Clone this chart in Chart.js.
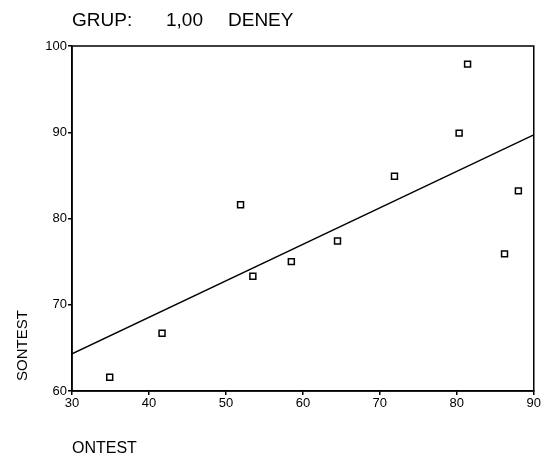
<!DOCTYPE html>
<html>
<head>
<meta charset="utf-8">
<script src="https://cdn.jsdelivr.net/npm/chart.js@4.4.1/dist/chart.umd.min.js"></script>
<style>
  html, body { margin: 0; padding: 0; background: #fff; }
  #wrap { width: 542px; height: 459px; }
</style>
</head>
<body>
<div id="wrap"><canvas id="chart" width="542" height="459"></canvas></div>
<script>
// values
var ontest  = [34.9, 41.7, 51.9, 53.5, 58.5, 64.5, 71.9, 80.3, 81.4, 88.0, 86.2];
var sontest = [61.6, 66.7, 81.6, 73.3, 75.0, 77.4, 84.9, 89.9, 97.9, 83.2, 75.9];
var fitX = [30, 90];
var fitY = [64.3, 89.7];
var xTicks = [30, 40, 50, 60, 70, 80, 90];
var yTicks = [60, 70, 80, 90, 100];
var titleParts = ['GRUP:', '1,00', 'DENEY'];
var xTitle = 'ONTEST';
var yTitle = 'SONTEST';

var FONT = '"Liberation Sans", Arial, sans-serif';

function toPoints(xs, ys){
    var pts = [];
    for(var i = 0; i < xs.length; i++){
        pts.push({x: xs[i], y: ys[i]});
    }
    return pts;
}

function fixTicks(values){
    return function(axis){
        axis.ticks = values.map(function(v){ return {value: v}; });
    };
}

var frame = {
    id: 'frame',
    afterDraw: function(chart){
        var ctx = chart.ctx;
        var a = chart.chartArea;
        ctx.save();
        ctx.strokeStyle = '#000';
        ctx.lineWidth = 1.5;
        ctx.strokeRect(a.left, a.top, a.right - a.left, a.bottom - a.top);

        ctx.fillStyle = '#000';
        ctx.textBaseline = 'alphabetic';
        ctx.textAlign = 'left';
        ctx.font = '19px ' + FONT;
        ctx.fillText(titleParts[0], 72, 26);
        ctx.fillText(titleParts[1], 166, 26);
        ctx.fillText(titleParts[2], 228, 26);

        ctx.font = '16px ' + FONT;
        ctx.fillText(xTitle, 72, 453);

        ctx.translate(27, 381);
        ctx.rotate(-Math.PI / 2);
        ctx.font = '15px ' + FONT;
        ctx.fillText(yTitle, 0, 0);
        ctx.restore();
    }
};

new Chart(document.getElementById('chart'), {
    type: 'scatter',
    data: {
        datasets: [{
            data: toPoints(ontest, sontest),
            pointStyle: 'rect',
            pointRadius: 4.2,
            pointBorderWidth: 1.5,
            pointBorderColor: '#000',
            pointBackgroundColor: '#fff'
        }, {
            type: 'line',
            data: toPoints(fitX, fitY),
            borderColor: '#000',
            borderWidth: 1.5,
            pointRadius: 0,
            fill: false
        }]
    },
    plugins: [frame],
    options: {
        responsive: false,
        animation: false,
        events: [],
        layout: { padding: { left: 0, top: 46, right: 7, bottom: 0 } },
        plugins: { legend: { display: false }, tooltip: { enabled: false } },
        scales: {
            x: {
                type: 'linear',
                min: 30, max: 90,
                afterBuildTicks: fixTicks(xTicks),
                afterFit: function(s){ s.height = 68; },
                grid: { drawOnChartArea: false, color: '#000', tickLength: 4, lineWidth: 1.5 },
                border: { color: '#000', width: 1.5 },
                ticks: { color: '#000', font: { family: FONT, size: 13 }, padding: 1, maxRotation: 0 }
            },
            y: {
                type: 'linear',
                min: 60, max: 100,
                afterBuildTicks: fixTicks(yTicks),
                afterFit: function(s){ s.width = 72; },
                grid: { drawOnChartArea: false, color: '#000', tickLength: 4, lineWidth: 1.5 },
                border: { color: '#000', width: 1.5 },
                ticks: { color: '#000', font: { family: FONT, size: 13 }, padding: 1 }
            }
        }
    }
});
</script>
</body>
</html>
